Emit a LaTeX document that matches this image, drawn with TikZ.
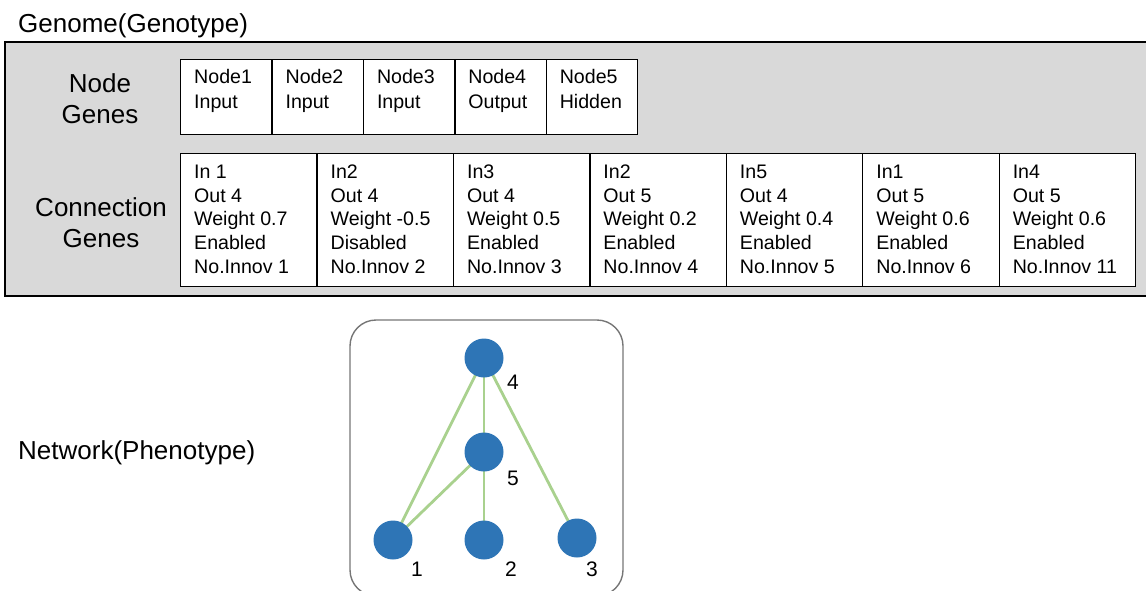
\documentclass[tikz,border=0pt]{standalone}
\usepackage{fontspec}
\setmainfont{Liberation Sans}
\usetikzlibrary{backgrounds}
\definecolor{panelgray}{HTML}{D9D9D9}
\definecolor{neuronblue}{HTML}{2E75B6}
\definecolor{linkgreen}{HTML}{A9D18E}
\definecolor{framegray}{HTML}{767676}
% multi-line cell text, aligned on the baseline of its first line
\newcommand{\stackl}[1]{\begin{tabular}[t]{@{}l@{}}#1\end{tabular}}
\newcommand{\stackc}[1]{\begin{tabular}[t]{@{}c@{}}#1\end{tabular}}
\begin{document}
\begin{tikzpicture}[x=1pt,y=-1pt,
  panel/.style={draw=black,line width=1.6pt,fill=panelgray},
  genecell/.style={draw=black,line width=1.3pt,fill=white,anchor=north west,inner sep=0pt},
  celltext/.style={anchor=base west,inner sep=0pt},
  bigtext/.style={inner sep=0pt,font=\fontsize{26}{31}\selectfont},
  neuron/.style={circle,fill=neuronblue,minimum size=39pt,inner sep=0pt},
  link/.style={draw=linkgreen,line width=2.8pt},
  numlabel/.style={anchor=base,inner sep=0pt,font=\fontsize{21}{24}\selectfont},
  netframe/.style={draw=framegray,line width=1.4pt,rounded corners=26pt}]
\clip (0,0) rectangle (1146,590);

% title
\node[bigtext,anchor=base west] (genome) at (18,32) {Genome(Genotype)};

% genome panel
\path[panel] (5,42) rectangle (1152,296);

% row labels
\node[bigtext,anchor=base] (nglabel) at (100,92) {\fontsize{26}{31}\selectfont\stackc{Node\\Genes}};
\node[bigtext,anchor=base] (cglabel) at (101,216) {\fontsize{26}{31}\selectfont\stackc{Connection\\Genes}};

% node genes
\foreach \i/\txt in {1/{Node1\\Input},2/{Node2\\Input},3/{Node3\\Input},4/{Node4\\Output},5/{Node5\\Hidden}}{
  \node[genecell,minimum width=91.4pt,minimum height=75pt] (n\i) at ({180+(\i-1)*91.4},58.5) {};
  \node[celltext] (n\i t) at ([shift={(14,25)}]n\i.north west)
    {\fontsize{19.6}{25}\selectfont\stackl{\txt}};
}

% connection genes
\foreach \i/\txt in {
  1/{In 1\\Out 4\\Weight 0.7\\Enabled\\No.Innov 1},
  2/{In2\\Out 4\\Weight -0.5\\Disabled\\No.Innov 2},
  3/{In3\\Out 4\\Weight 0.5\\Enabled\\No.Innov 3},
  4/{In2\\Out 5\\Weight 0.2\\Enabled\\No.Innov 4},
  5/{In5\\Out 4\\Weight 0.4\\Enabled\\No.Innov 5},
  6/{In1\\Out 5\\Weight 0.6\\Enabled\\No.Innov 6},
  7/{In4\\Out 5\\Weight 0.6\\Enabled\\No.Innov 11}}{
  \node[genecell,minimum width=136.43pt,minimum height=133pt] (c\i) at ({180+(\i-1)*136.43},152.7) {};
  \node[celltext] (c\i t) at ([shift={(14,25.6)}]c\i.north west)
    {\fontsize{19.6}{23.75}\selectfont\stackl{\txt}};
}

% phenotype
\node[bigtext,anchor=base west] (network) at (18,459) {Network(Phenotype)};
\draw[netframe] (350,320) rectangle (623,596);

\node[neuron] (v4) at (484,358) {};
\node[neuron] (v5) at (484,452) {};
\node[neuron] (v1) at (393,540) {};
\node[neuron] (v2) at (484,540) {};
\node[neuron] (v3) at (577,538) {};

\begin{scope}[on background layer]
  \draw[link] (v4.center) -- (v1.center);
  \draw[link] (v4.center) -- (v5.center);
  \draw[link] (v4.center) -- (v3.center);
  \draw[link] (v5.center) -- (v2.center);
  \draw[link] (v5.center) -- (v1.center);
\end{scope}

\node[numlabel] (l4) at (513,389) {4};
\node[numlabel] (l5) at (513,485) {5};
\node[numlabel] (l1) at (417,576) {1};
\node[numlabel] (l2) at (511,576) {2};
\node[numlabel] (l3) at (592,576) {3};
\end{tikzpicture}
\end{document}
